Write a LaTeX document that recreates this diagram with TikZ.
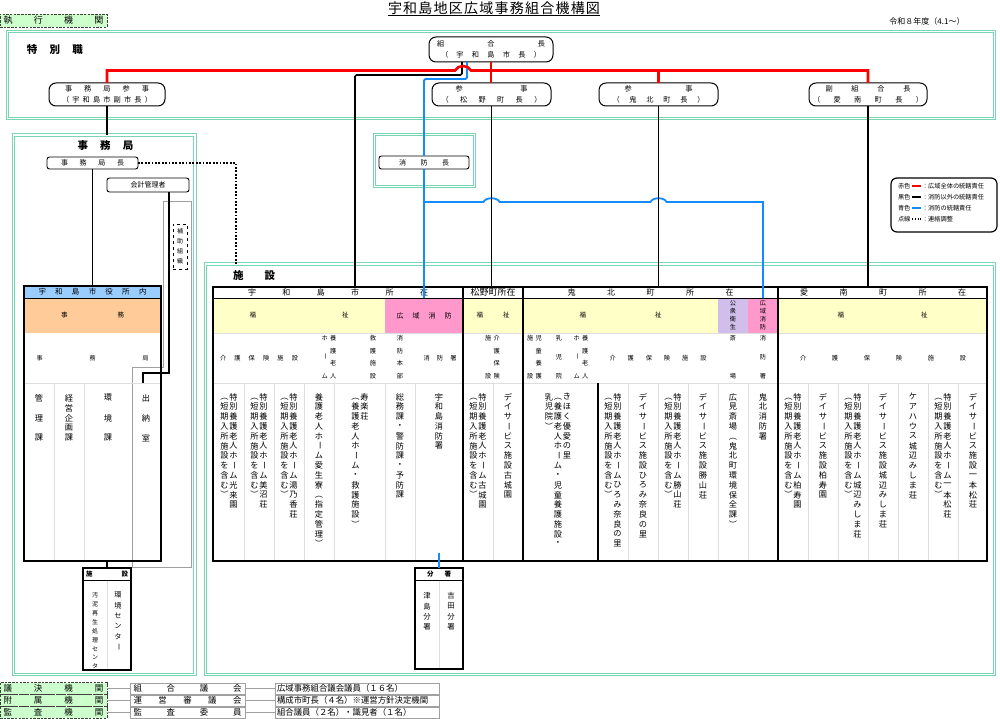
\documentclass[tikz,border=0pt]{standalone}
\usepackage{fontspec}
\setmainfont{Noto Sans CJK JP}
\usetikzlibrary{calc}
\definecolor{framegreen}{RGB}{120,215,178}
\definecolor{lnred}{RGB}{255,0,0}
\definecolor{lnblue}{RGB}{20,140,255}
\definecolor{cyellow}{RGB}{255,255,200}
\definecolor{cpink}{RGB}{255,153,204}
\definecolor{clav}{RGB}{210,190,235}
\definecolor{cltblue}{RGB}{153,204,255}
\definecolor{corange}{RGB}{255,204,153}
\definecolor{cgreen}{RGB}{204,255,204}
\definecolor{cdiv}{RGB}{222,222,222}
\definecolor{cgray}{RGB}{160,160,160}
\makeatletter
\newdimen\vtw \vtw=9pt
\newdimen\vtp \vtp=9.8pt
\newdimen\vtch \vtch=8pt
\def\vt@end{\vt@end}
\def\vt@r#1{\ifx#1（\rotatebox[origin=c]{-90}{#1}\else\ifx#1）\rotatebox[origin=c]{-90}{#1}\else\ifx#1ー\rotatebox[origin=c]{-90}{#1}\else#1\fi\fi\fi}
\def\vt@cell#1#2{\hbox to\vtw{\hss\vbox to #2{\vss\hbox{\vt@r{#1}}\vss}\hss}}
\newcommand\vt[1]{\vtop{\offinterlineskip\vt@l#1\vt@end}}
\def\vt@l#1{\ifx#1\vt@end\else\vt@cell{#1}{\vtp}\expandafter\vt@l\fi}
\newcommand\vsp[2]{\vbox to #1{\offinterlineskip\vsp@f#2\vt@end}}
\def\vsp@f#1{\vt@cell{#1}{\vtch}\vsp@l}
\def\vsp@l#1{\ifx#1\vt@end\else\vfil\vt@cell{#1}{\vtch}\expandafter\vsp@l\fi}
\newcommand\spr[2]{\hbox to #1{\spr@f#2\vt@end}}
\def\spr@f#1{#1\spr@l}
\def\spr@l#1{\ifx#1\vt@end\else\hfil#1\expandafter\spr@l\fi}
\makeatother
\newcommand\tk[1]{\hbox{\vt{（短期入所施設を含む）}\vt{#1}}}
\tikzset{
  every node/.style={inner sep=0pt, outer sep=0pt},
  fz/.style={font=\fontsize{#1}{#1}\selectfont},
  fzb/.style={font=\fontsize{#1}{#1}\selectfont\bfseries},
  gfr/.style={draw=framegreen, line width=1pt, double=white, double distance=1.2pt},
  offbox/.style={draw, line width=1pt, rounded corners=7pt, align=center, minimum height=23pt, font=\fontsize{7.2}{11.5}\selectfont},
  rbox/.style={draw, line width=0.9pt, rounded corners=2.5pt, fz=7},
  redl/.style={draw=lnred, line width=2.6pt},
  blkl/.style={draw=black, line width=1.6pt},
  bluel/.style={draw=lnblue, line width=1.8pt},
  dotl/.style={draw=black, line width=1.8pt, dash pattern=on 1.8pt off 1.6pt},
  divl/.style={draw=cdiv, line width=0.8pt},
  grayl/.style={draw=cgray, line width=0.8pt},
  dgreen/.style={fill=cgreen, draw=black!75, line width=0.8pt, dash pattern=on 2.5pt off 1.2pt, fz=8.5},
  gbox/.style={draw=cgray, fill=white, line width=0.9pt, fz=8.4},
  vtxt/.style={anchor=north, fz=8.2},
  r3/.style={anchor=north, fz=6.2},
  r2/.style={minimum height=35, fz=6.5},
  hd/.style={minimum height=11, fz=8},
}
\begin{document}
\begin{tikzpicture}[x=1pt,y=-1pt]
\useasboundingbox (0,0) rectangle (1000,719);
\fill[white] (0,0) rectangle (1000,719);

% ---------- title ----------
\node[fz=14] (title) at (494,8.5) {\spr{212pt}{宇和島地区広域事務組合機構図}};
\draw[line width=0.8pt] (title.south west) -- (title.south east);
\node[fz=8] (nendo) at (927,21.5) {令和８年度（4.1〜）};
\node[dgreen, fz=9, minimum width=107, minimum height=13] (shikko) at (53.5,20.5) {\spr{100pt}{執行機関}};

% ---------- special officials ----------
\draw[gfr] (7.5,31.5) rectangle (994.5,118.5);
\node[fzb=10.5] (tokubetsu) at (55,50) {\spr{56pt}{特別職}};
\node[offbox, minimum width=124, minimum height=25] (kumiai) at (491,49.5) {\spr{108pt}{組合長}\\\spr{100pt}{（宇和島市長）}};
\node[offbox, minimum width=116] (sanji) at (107,94.5) {\spr{84pt}{事務局参事}\\\spr{90pt}{（宇和島市副市長）}};
\node[offbox, minimum width=119] (matsuno) at (491.5,94.5) {\spr{72pt}{参事}\\\spr{100pt}{（松野町長）}};
\node[offbox, minimum width=119] (kihoku) at (658.5,94.5) {\spr{68pt}{参事}\\\spr{92pt}{（鬼北町長）}};
\node[offbox, minimum width=118] (ainan) at (868,94.5) {\spr{85pt}{副組合長}\\\spr{110pt}{（愛南町長）}};

% ---------- fire chief ----------
\draw[gfr] (374.7,134.7) rectangle (474.5,186.3);
\node[rbox, minimum width=90, minimum height=13] (shobo) at (424,162.5) {\spr{50pt}{消防長}};

% ---------- legend ----------
\node[draw, line width=1.2pt, rounded corners=6pt, minimum width=106, minimum height=54] (legend) at (944,205) {};
\node[fz=6.2, anchor=west] (lg1a) at (898,186) {赤色};
\node[fz=6.2, anchor=west] (lg1b) at (922,186) {：広域全体の統轄責任};
\node[fz=6.2, anchor=west] (lg2a) at (898,197) {黒色};
\node[fz=6.2, anchor=west] (lg2b) at (922,197) {：消防以外の統轄責任};
\node[fz=6.2, anchor=west] (lg3a) at (898,208) {青色};
\node[fz=6.2, anchor=west] (lg3b) at (922,208) {：消防の統轄責任};
\node[fz=6.2, anchor=west] (lg4a) at (898,219) {点線};
\node[fz=6.2, anchor=west] (lg4b) at (922,219) {：連絡調整};
\draw[draw=lnred, line width=2.2pt] ([xshift=1.5pt]lg1a.east) -- ([xshift=-1pt]lg1b.west);
\draw[draw=black, line width=1.6pt] ([xshift=1.5pt]lg2a.east) -- ([xshift=-1pt]lg2b.west);
\draw[draw=lnblue, line width=1.6pt] ([xshift=1.5pt]lg3a.east) -- ([xshift=-1pt]lg3b.west);
\draw[draw=black, line width=1.4pt, dash pattern=on 1.4pt off 1.4pt] ([xshift=1.5pt]lg4a.east) -- ([xshift=-1pt]lg4b.west);

% ---------- secretariat ----------
\draw[gfr] (13.5,135) rectangle (195,674.5);
\node[fzb=10.5] (jimuT) at (105.5,145.5) {\spr{56pt}{事務局}};
\node[rbox, minimum width=91, minimum height=12] (jkc) at (92.5,163) {\spr{63pt}{事務局長}};
\node[rbox, minimum width=82, minimum height=14] (kaikei) at (148,185) {会計管理者};
\draw[grayl] (163,201) -- (191,201) -- (191,567) -- (132,567) -- (132,367) -- (163,367) -- cycle;
\node[draw, dashed, line width=0.8pt, minimum width=14, minimum height=45, fz=6] (hojo) at (180,246.5) {\vtp=10pt\relax\vtw=8pt\relax\vt{補助組織}};

\node[fill=cltblue, minimum width=137, minimum height=12, fz=7.5] (shiH) at (92.5,292) {\spr{108pt}{宇和島市役所内}};
\node[fill=corange, minimum width=137, minimum height=35, fz=6.5] (jimuO) at (92.5,315.5) {\spr{63pt}{事務}};
\node[fz=6] (jimuK) at (92.5,358) {\spr{112pt}{事務局}};
\draw[divl] (24,383) -- (161,383);
\draw[divl] (54,383) -- (54,561);
\draw[divl] (84,383) -- (84,561);
\draw[line width=0.8pt] (24,298) -- (161,298);
\draw[line width=1.4pt] (24,286) rectangle (161,561);
\node[vtxt] (kanri) at (39,388) {\vtp=20pt\relax\vt{管理課}};
\node[vtxt] (keiei) at (69,393) {\vtp=10pt\relax\vt{経営企画課}};
\node[vtxt] (kankyo) at (108,388) {\vtp=20pt\relax\vt{環境課}};
\node[vtxt] (suito) at (146,388) {\vtp=20pt\relax\vt{出納室}};

% environment facility box
\node[draw, line width=1.4pt, minimum width=48, minimum height=102] (kshisetsu) at (107,619) {};
\node[fzb=6.5] (ksH) at (107,574) {\spr{42pt}{施設}};
\draw[line width=1pt] (83,580) -- (131,580);
\draw[divl] (107,580.5) -- (107,669);
\begin{scope}
\clip (84,581) rectangle (130,669);
\node[anchor=north, fz=6] (odei) at (95,591) {\vtp=8.9pt\relax\vtw=7pt\relax\vt{汚泥再生処理センター}};
\end{scope}
\node[anchor=north, fz=7.2] (kcenter) at (118,590) {\vtp=10.4pt\relax\vt{環境センター}};

% ---------- facilities ----------
\draw[gfr] (205.5,264) rectangle (994.5,674.5);
\node[fzb=10.5] (shisetsuT) at (254,276) {\spr{42pt}{施設}};

% header row
\node[hd, minimum width=250] (uwaH) at (338,292.5) {\spr{180pt}{宇和島市所在}};
\node[hd, minimum width=60] (matsuH) at (493,292.5) {\fontsize{9}{9}\selectfont 松野町所在};
\node[hd, minimum width=255] (kiH) at (650.5,292.5) {\spr{166pt}{鬼北町所在}};
\node[hd, minimum width=209] (aiH) at (883,292.5) {\spr{166pt}{愛南町所在}};

% category row
\node[r2, fill=cyellow, minimum width=172] (fuku1) at (299,315.5) {\spr{99pt}{福祉}};
\node[r2, fill=cpink, minimum width=78, fz=7] (koiki1) at (424,315.5) {\spr{55pt}{広域消防}};
\node[r2, fill=cyellow, minimum width=60] (fuku2) at (493,315.5) {\spr{33pt}{福祉}};
\node[r2, fill=cyellow, minimum width=195] (fuku3) at (620.5,315.5) {\spr{82pt}{福祉}};
\node[r2, fill=clav, minimum width=30] (kosyu) at (733,315.5) {};
\node[r2, fill=cpink, minimum width=30] (koiki2) at (763,315.5) {};
\node[r2, fill=cyellow, minimum width=209] (fuku4) at (882.5,315.5) {\spr{90pt}{福祉}};
\node[anchor=north, fz=6.2] (kosyuT) at (733,299.5) {\vtp=7.8pt\relax\vt{公衆衛生}};
\node[anchor=north, fz=6.2] (koiki2T) at (763,299.5) {\vtp=7.8pt\relax\vt{広域消防}};

% sub-category row
\node[fz=6.2] (kaigo1) at (259,358) {\spr{78pt}{介護保険施設}};
\node[r3] (yogo1) at (329,334) {\vtw=8.5pt\relax\hbox{\vsp{46pt}{ホーム}\vsp{46pt}{養護老人}}};
\node[r3] (kyugo) at (373,334) {\vsp{46pt}{救護施設}};
\node[r3] (honbu) at (400,334) {\vsp{46pt}{消防本部}};
\node[fz=6.2] (shobosho1) at (440,358) {\spr{33pt}{消防署}};
\node[r3] (kaigo2) at (492.5,334) {\vtw=8.5pt\relax\hbox{\vsp{46pt}{施設}\vsp{46pt}{介護保険}}};
\node[r3] (jido) at (534.5,334) {\vtw=8.5pt\relax\hbox{\vsp{46pt}{施設}\vsp{46pt}{児童養護}}};
\node[r3] (nyuji) at (559,334) {\vsp{46pt}{乳児院}};
\node[r3] (yogo2) at (581,334) {\vtw=8.5pt\relax\hbox{\vsp{46pt}{ホーム}\vsp{46pt}{養護老人}}};
\node[fz=6.2] (kaigo3) at (658,358) {\spr{97pt}{介護保険施設}};
\node[r3] (saijo) at (733,334) {\vsp{46pt}{斎場}};
\node[r3] (shobosho2) at (763,334) {\vsp{46pt}{消防署}};
\node[fz=6.2] (kaigo4) at (883,358) {\spr{166pt}{介護保険施設}};

% table lines
\draw[divl] (213,333) -- (987,333);
\draw[divl] (213,383) -- (987,383);
\foreach \xx in {244,274,304,334,385,415,493,628,658,688,718,748,808,838,868,898,928,958}
  \draw[divl] (\xx,383.5) -- (\xx,560);
\draw[line width=0.8pt] (213,298) -- (987,298);
\draw[line width=1.6pt] (463,287) -- (463,561);
\draw[line width=1.6pt] (523,287) -- (523,561);
\draw[line width=1.6pt] (778,287) -- (778,561);
\draw[line width=1.6pt] (598,383) -- (598,561);
\draw[line width=1.6pt] (213,287) rectangle (987,561);

% facility names
\node[vtxt] (u1) at (229,392) {\tk{特別養護老人ホーム光来園}};
\node[vtxt] (u2) at (259,392) {\tk{特別養護老人ホーム美沼荘}};
\node[vtxt] (u3) at (289,392) {\tk{特別養護老人ホーム湯乃香荘}};
\node[vtxt] (u4) at (319,392) {\vt{養護老人ホーム愛生寮（指定管理）}};
\node[vtxt] (u5) at (360,392) {\hbox{\vt{（養護老人ホーム・救護施設）}\vt{寿楽荘}}};
\node[vtxt] (u6) at (400,392) {\vt{総務課・警防課・予防課}};
\node[vtxt] (u7) at (439,392) {\vt{宇和島消防署}};
\node[vtxt] (m1) at (478,392) {\tk{特別養護老人ホーム古城園}};
\node[vtxt] (m2) at (508,392) {\vt{デイサービス施設古城園}};
\node[vtxt] (k1) at (558,392) {\hbox{\vt{乳児院）}\vt{（養護老人ホーム・児童養護施設・}\vt{きほく優愛の里}}};
\node[vtxt] (k2) at (613,392) {\tk{特別養護老人ホームひろみ奈良の里}};
\node[vtxt] (k3) at (643,392) {\vt{デイサービス施設ひろみ奈良の里}};
\node[vtxt] (k4) at (673,392) {\tk{特別養護老人ホーム勝山荘}};
\node[vtxt] (k5) at (703,392) {\vt{デイサービス施設勝山荘}};
\node[vtxt] (k6) at (733,392) {\vt{広見斎場（鬼北町環境保全課）}};
\node[vtxt] (k7) at (763,392) {\vt{鬼北消防署}};
\node[vtxt] (a1) at (793,392) {\tk{特別養護老人ホーム柏寿園}};
\node[vtxt] (a2) at (823,392) {\vt{デイサービス施設柏寿園}};
\node[vtxt] (a3) at (853,392) {\tk{特別養護老人ホーム城辺みしま荘}};
\node[vtxt] (a4) at (883,392) {\vt{デイサービス施設城辺みしま荘}};
\node[vtxt] (a5) at (913,392) {\vt{ケアハウス城辺みしま荘}};
\node[vtxt] (a6) at (943,392) {\tk{特別養護老人ホーム一本松荘}};
\node[vtxt] (a7) at (973,392) {\vt{デイサービス施設一本松荘}};

% branch stations
\node[draw, line width=1.4pt, minimum width=48, minimum height=101] (bunsho) at (439,618.5) {};
\node[fzb=6.5] (bunH) at (439,574) {\spr{24pt}{分署}};
\draw[line width=1pt] (415,580) -- (463,580);
\draw[divl] (439,580.5) -- (439,668);
\node[anchor=north, fz=7.4] (yoshida) at (451,591) {\vtp=10.2pt\relax\vt{吉田分署}};
\node[anchor=north, fz=7.4] (tsushima) at (427,591) {\vtp=10.2pt\relax\vt{津島分署}};

% ---------- coordinates ----------
\coordinate (hopL) at (455,70.5);
\coordinate (hopR) at (471,70.5);
\coordinate (uwaTop) at (355,287);
\coordinate (bj) at (424,202);
\coordinate (h1L) at (483.5,202);
\coordinate (h1R) at (499.5,202);
\coordinate (h2L) at (650.5,202);
\coordinate (h2R) at (666.5,202);
\coordinate (jimuF) at (107,135);
\coordinate (sfTop) at (236,264);
\coordinate (suitoTop) at (143,383);
\coordinate (kankyoB) at (107,561);
\coordinate (u7b) at (439,553);

% ---------- connectors ----------
\draw[blkl, rounded corners=1.5pt] ([xshift=-29pt]kumiai.south) -- ++(0,13) -| (uwaTop);
\draw[bluel, rounded corners=1.5pt] ([xshift=-24pt]kumiai.south) -- ++(0,17) -| (shobo.north);
\draw[bluel] (shobo.south) -- (koiki1.north);
\draw[bluel] (bj) -- (h1L) .. controls +(2,-5) and +(-2,-5) .. (h1R) -- (h2L) .. controls +(2,-5) and +(-2,-5) .. (h2R) -| (koiki2.north);
\draw[blkl] (matsuno.south) -- (matsuno.south |- matsuH.north);
\draw[blkl] (kihoku.south) -- (kihoku.south |- kiH.north);
\draw[blkl] (ainan.south) -- (ainan.south |- aiH.north);
\draw[blkl] (sanji.south) -- (jimuF);
\draw[redl] (sanji.north) |- (hopL) .. controls +(3,-6) and +(-3,-6) .. (hopR) -| (ainan.north);
\draw[redl] (kumiai.south) -- (kumiai.south |- matsuno.north);
\draw[redl] (kihoku.north) -- (kihoku.north |- hopL);
\draw[blkl] (jkc.south) -- (jkc.south |- shiH.north);
\draw[blkl] ([xshift=21pt]kaikei.south) -- ++(0,181) -| (suitoTop);
\draw[dotl] (jkc.east) -| (sfTop);
\draw[blkl] (kankyoB) -- (kshisetsu.north);
\draw[bluel] (u7b) -- (bunsho.north);

% ---------- councils ----------
\node[dgreen, minimum width=107, minimum height=11.5] (giketsu) at (53.5,688.5) {\spr{100pt}{議決機関}};
\node[dgreen, minimum width=107, minimum height=11.5] (fuzoku) at (53.5,700.5) {\spr{100pt}{附属機関}};
\node[dgreen, minimum width=107, minimum height=11.5] (kansa) at (53.5,712.5) {\spr{100pt}{監査機関}};
\node[gbox, minimum width=115, minimum height=11] (kgikai) at (187.5,688.5) {\spr{108pt}{組合議会}};
\node[gbox, minimum width=115, minimum height=11] (unei) at (187.5,700.5) {\spr{108pt}{運営審議会}};
\node[gbox, minimum width=115, minimum height=11] (kansai) at (187.5,712.5) {\spr{108pt}{監査委員}};
\node[gbox, minimum width=164, minimum height=11] (r1) at (357,688.5) {\hbox to 160pt{広域事務組合議会議員（１６名）\hfil}};
\node[gbox, minimum width=164, minimum height=11] (r2) at (357,700.5) {\hbox to 160pt{構成市町長（４名）※運営方針決定機関\hfil}};
\node[gbox, minimum width=164, minimum height=11] (r3) at (357,712.5) {\hbox to 160pt{組合議員（２名）・識見者（１名）\hfil}};
\draw[grayl] (giketsu.east) -- (kgikai.west);
\draw[grayl] (fuzoku.east) -- (unei.west);
\draw[grayl] (kansa.east) -- (kansai.west);
\draw[grayl] (kgikai.east) -- (r1.west);
\draw[grayl] (unei.east) -- (r2.west);
\draw[grayl] (kansai.east) -- (r3.west);
\end{tikzpicture}
\end{document}
